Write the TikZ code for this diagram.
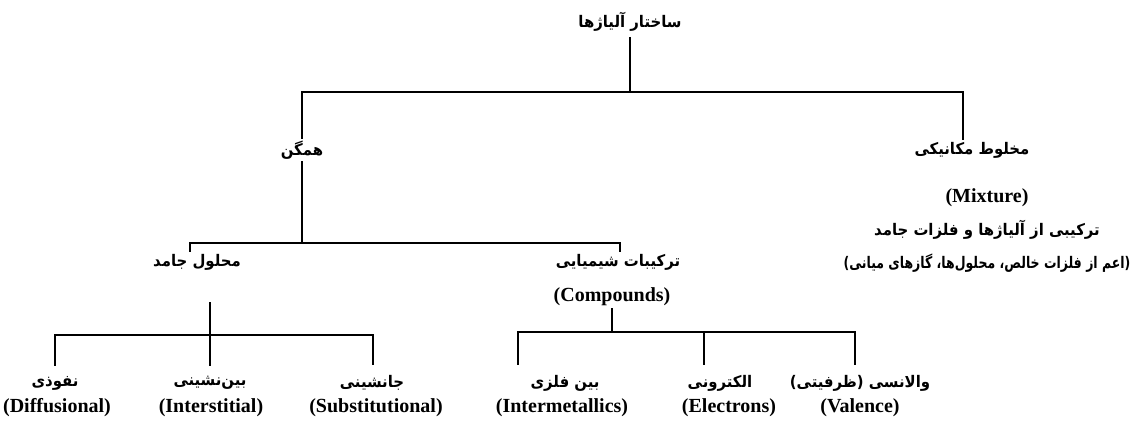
\documentclass[tikz,border=0pt]{standalone}
\usepackage{fontspec}
\setmainfont{Liberation Serif}
\newfontfamily\farsi[Script=Arabic,FakeStretch=0.93]{DejaVu Sans}
\newfontfamily\farsinarrow[Script=Arabic,FakeStretch=0.78]{DejaVu Sans}
\TeXXeTstate=1
\usetikzlibrary{calc}
\newcommand{\fa}[1]{{\farsi\bfseries\beginR #1\endR}}
\newcommand{\fan}[1]{{\farsinarrow\bfseries\beginR #1\endR}}

\begin{document}
\begin{tikzpicture}[x=1pt,y=-1pt,
  fatext/.style={font=\fontsize{16}{19}\selectfont,inner sep=2pt},
  entext/.style={font=\fontsize{20}{24}\selectfont\bfseries,inner sep=2pt},
  stem/.style={line width=1.3pt},
  bus/.style={line width=2.2pt,line cap=rect}]
\useasboundingbox (0,0) rectangle (1146,428);

% levels 0 and 1
\node[fatext] (root) at (630,22) {\fa{ساختار آلیاژها}};
\node[fatext] (homo) at (302,150) {\fa{همگن}};
\node[fatext] (mech) at (972,150) {\fa{مخلوط مکانیکی}};
\node[entext] (mixe) at (987,198) {(Mixture)};
\node[fatext] (mixa) at (987,230) {\fa{ترکیبی از آلیاژها و فلزات جامد}};
\node[fatext] (mixb) at (987,263) {\fan{(اعم از فلزات خالص، محلول‌ها، گازهای میانی)}};

% level 2
\node[fatext] (solid) at (197,262) {\fa{محلول جامد}};
\node[fatext] (comp) at (618,262) {\fa{ترکیبات شیمیایی}};
\node[entext] (compe) at (612,297) {(Compounds)};

% level 3
\node[fatext] (diff) at (55,383) {\fa{نفوذی}};
\node[entext] (diffe) at (57,408) {(Diffusional)};
\node[fatext] (inter) at (210,383) {\fa{بین‌نشینی}};
\node[entext] (intere) at (211,408) {(Interstitial)};
\node[fatext] (subs) at (372,383) {\fa{جانشینی}};
\node[entext] (subse) at (376,408) {(Substitutional)};
\node[fatext] (imet) at (565,383) {\fa{بین فلزی}};
\node[entext] (imete) at (562,408) {(Intermetallics)};
\node[fatext] (elec) at (720,383) {\fa{الکترونی}};
\node[entext] (elece) at (729,408) {(Electrons)};
\node[fatext] (vale) at (860,383) {\fa{والانسی (ظرفیتی)}};
\node[entext] (valee) at (860,408) {(Valence)};

% bus points
\coordinate (b1l) at (302,92);
\coordinate (b1r) at (963,92);
\coordinate (b2l) at (190,243);
\coordinate (b2r) at (620,243);
\coordinate (t3) at (210,302);
\coordinate (b3l) at (55,335);
\coordinate (b3m) at (210,335);
\coordinate (b3r) at (373,335);
\coordinate (b4l) at (518,332);
\coordinate (b4m) at (612,332);
\coordinate (b4c) at (704,332);
\coordinate (b4r) at (855,332);

\draw[stem,shorten <=3pt] (root.south) -- (root.south |- b1l);
\draw[bus] (b1l) -- (b1r);
\draw[stem] (b1l) -- (homo.north);
\draw[stem] (b1r) -- (b1r |- mech.north);

\draw[stem] (homo.south) -- (homo.south |- b2l);
\draw[bus] (b2l) -- (b2r);
\draw[stem] (b2l) -- (b2l |- solid.north);
\draw[stem] (b2r) -- (b2r |- comp.north);

\draw[stem] (t3) -- (b3m);
\draw[bus] (b3l) -- (b3r);
\draw[stem,shorten >=8pt] (b3l) -- (b3l |- diff.north);
\draw[stem,shorten >=8pt] (b3m) -- (b3m |- inter.north);
\draw[stem,shorten >=8pt] (b3r) -- (b3r |- subs.north);

\draw[stem] (compe.south) -- (b4m);
\draw[bus] (b4l) -- (b4r);
\draw[stem,shorten >=8pt] (b4l) -- (b4l |- imet.north);
\draw[stem,shorten >=8pt] (b4c) -- (b4c |- elec.north);
\draw[stem,shorten >=8pt] (b4r) -- (b4r |- vale.north);
\end{tikzpicture}
\end{document}
